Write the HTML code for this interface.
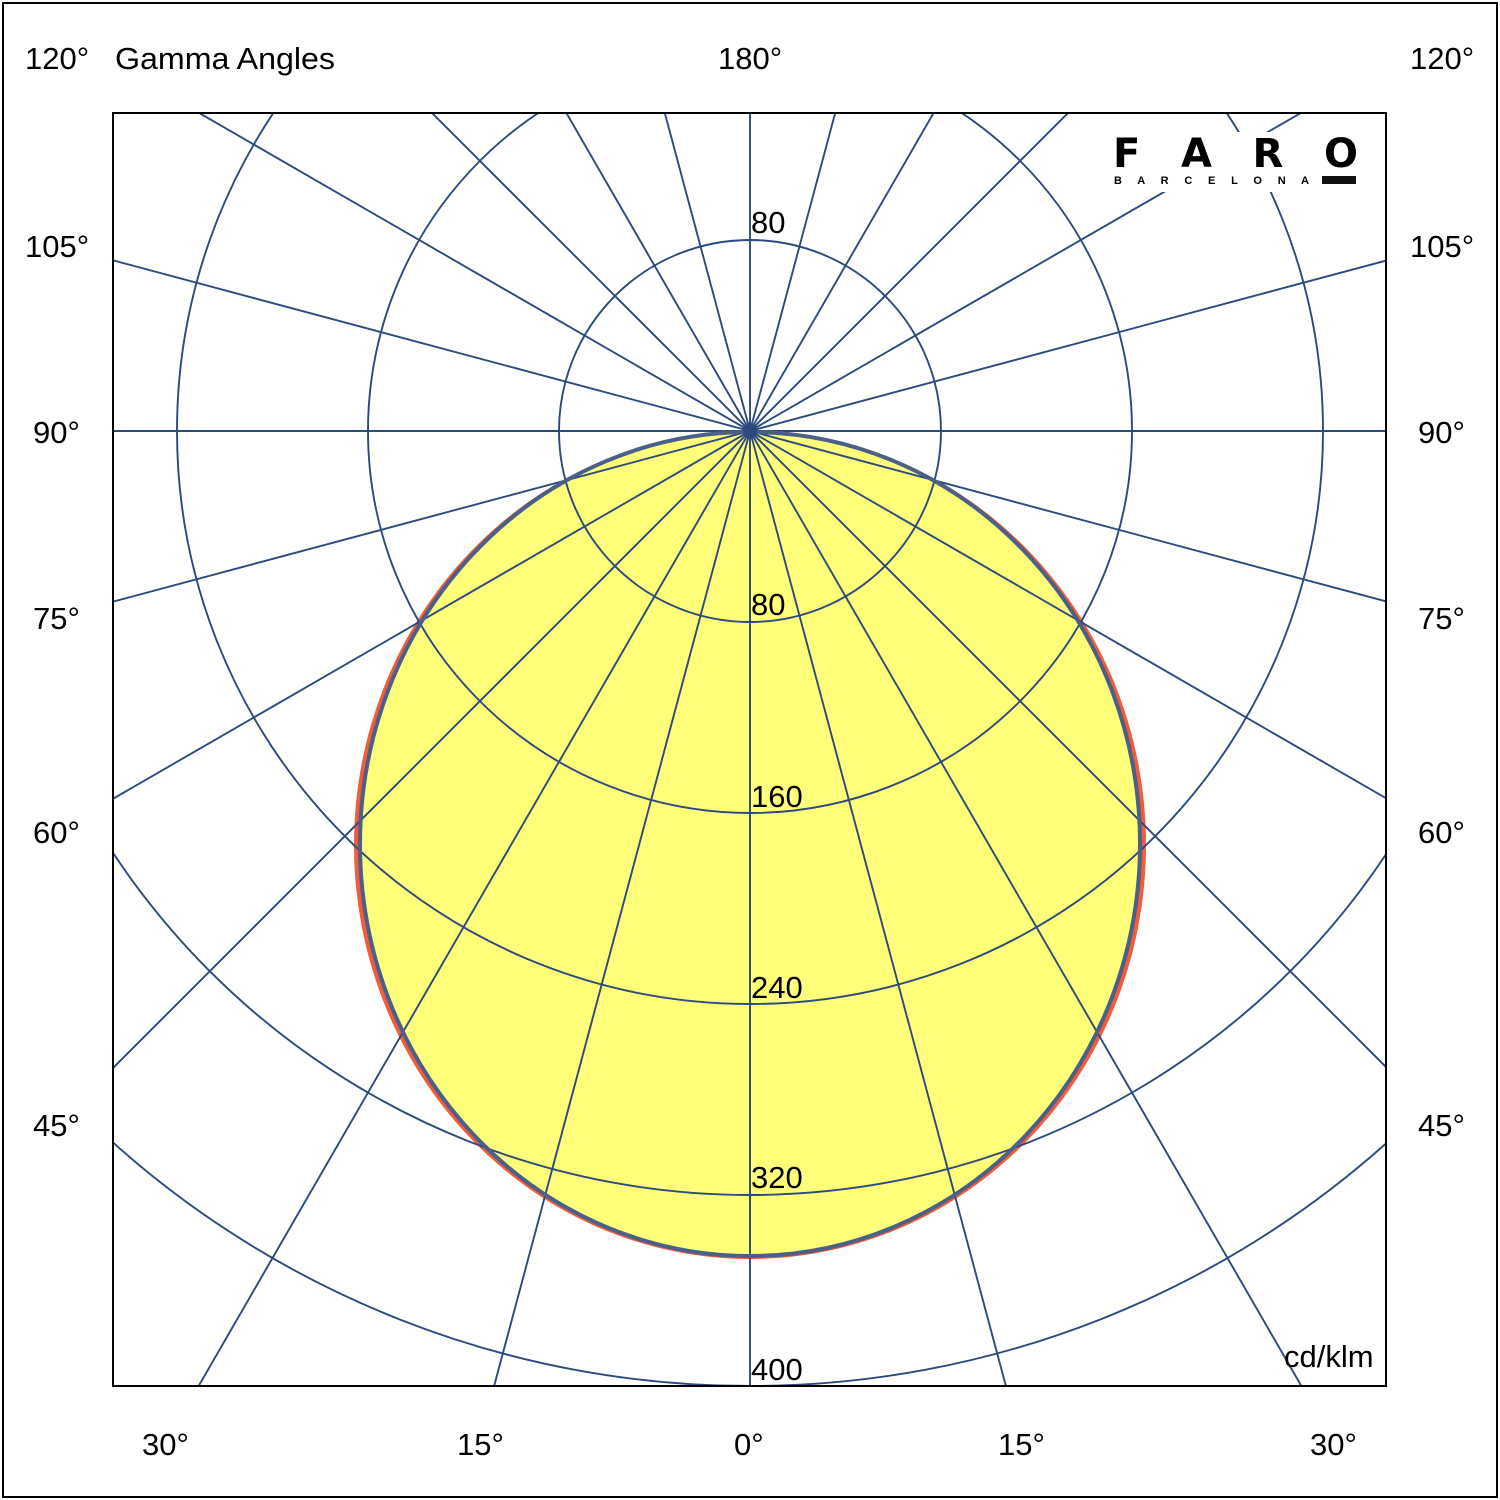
<!DOCTYPE html>
<html><head><meta charset="utf-8"><style>
html,body{margin:0;padding:0;background:#fff;width:1500px;height:1500px;overflow:hidden;}
svg{display:block;}
text{font-family:"Liberation Sans",Arial,sans-serif;fill:#000;}
</style></head><body>
<svg width="1500" height="1500" viewBox="0 0 1500 1500" xmlns="http://www.w3.org/2000/svg">
<rect x="3" y="3" width="1494" height="1494" fill="#fff" stroke="#000" stroke-width="2"/>
<defs><clipPath id="c"><rect x="113" y="113" width="1273" height="1273"/></clipPath></defs>
<g clip-path="url(#c)">
  <ellipse cx="750" cy="845" rx="396" ry="414" fill="#f25c3a"/>
  <ellipse cx="750" cy="844" rx="391" ry="412" fill="#ffff7a"/>
  <g stroke="#2b4a7e" stroke-width="1.9" fill="none">
    <circle cx="750" cy="431" r="191"/>
    <circle cx="750" cy="431" r="382"/>
    <circle cx="750" cy="431" r="573"/>
    <circle cx="750" cy="431" r="764"/>
    <circle cx="750" cy="431" r="955"/>
    <line x1="750" y1="-1600" x2="750" y2="2500"/>
    <line x1="750" y1="-1600" x2="750" y2="2500" transform="rotate(15 750 431)"/>
    <line x1="750" y1="-1600" x2="750" y2="2500" transform="rotate(30 750 431)"/>
    <line x1="750" y1="-1600" x2="750" y2="2500" transform="rotate(45 750 431)"/>
    <line x1="750" y1="-1600" x2="750" y2="2500" transform="rotate(60 750 431)"/>
    <line x1="750" y1="-1600" x2="750" y2="2500" transform="rotate(75 750 431)"/>
    <line x1="750" y1="-1600" x2="750" y2="2500" transform="rotate(90 750 431)"/>
    <line x1="750" y1="-1600" x2="750" y2="2500" transform="rotate(105 750 431)"/>
    <line x1="750" y1="-1600" x2="750" y2="2500" transform="rotate(120 750 431)"/>
    <line x1="750" y1="-1600" x2="750" y2="2500" transform="rotate(135 750 431)"/>
    <line x1="750" y1="-1600" x2="750" y2="2500" transform="rotate(150 750 431)"/>
    <line x1="750" y1="-1600" x2="750" y2="2500" transform="rotate(165 750 431)"/>
  </g>
  <ellipse cx="750" cy="844" rx="390" ry="412" fill="none" stroke="#4a6088" stroke-width="4"/>
  <circle cx="750" cy="431" r="7" fill="#2d4a80"/>
</g>
<rect x="113" y="113" width="1273" height="1273" fill="none" stroke="#000" stroke-width="2"/>
<rect x="1108" y="132" width="256" height="60" fill="#fff"/>
<text x="1113" y="167" font-size="40" font-weight="bold" textLength="245" lengthAdjust="spacing" style="font-family:'DejaVu Sans',sans-serif">F A R O</text>
<text x="1114" y="184" font-size="11" font-weight="bold" textLength="195" lengthAdjust="spacing">B A R C E L O N A</text>
<rect x="1322" y="176" width="34" height="8" fill="#111"/>
<g font-size="31">
<text x="25" y="69">120°</text>
<text x="115" y="69" textLength="220" lengthAdjust="spacingAndGlyphs">Gamma Angles</text>
<text x="718" y="69">180°</text>
<text x="1410" y="69">120°</text>
<text x="25" y="257">105°</text>
<text x="1410" y="257">105°</text>
<text x="33" y="443">90°</text>
<text x="1418" y="443">90°</text>
<text x="33" y="629">75°</text>
<text x="1418" y="629">75°</text>
<text x="33" y="843">60°</text>
<text x="1418" y="843">60°</text>
<text x="33" y="1136">45°</text>
<text x="1418" y="1136">45°</text>
<text x="142" y="1455">30°</text>
<text x="457" y="1455">15°</text>
<text x="734" y="1455">0°</text>
<text x="998" y="1455">15°</text>
<text x="1310" y="1455">30°</text>
<text x="751" y="233">80</text>
<text x="751" y="615">80</text>
<text x="751" y="807">160</text>
<text x="751" y="998">240</text>
<text x="751" y="1188">320</text>
<text x="751" y="1380">400</text>
<text x="1284" y="1367">cd/klm</text>
</g>
</svg>
</body></html>
